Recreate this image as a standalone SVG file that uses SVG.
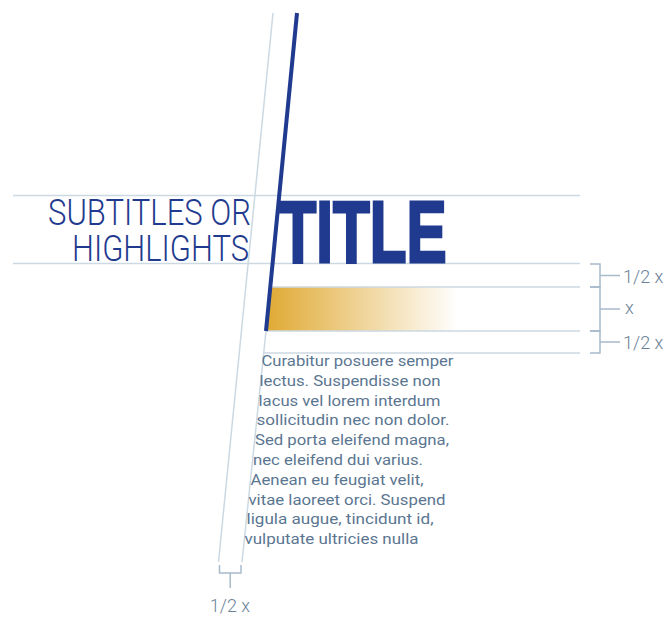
<svg xmlns="http://www.w3.org/2000/svg" width="671" height="618" viewBox="0 0 671 618">
<style>
.guide{stroke:#CCD9E2;stroke-width:1.5;fill:none}
.brk{stroke:#A7BBCA;stroke-width:1.5;fill:none}
.lbl{font-family:Roboto,"Liberation Sans",sans-serif;font-weight:300;font-size:18px;fill:#6A8299}
.body{font-family:Roboto,"Liberation Sans",sans-serif;font-size:15.5px;fill:#5B7691}
.sub{font-family:Roboto,"Liberation Sans",sans-serif;font-weight:300;font-size:36.5px;fill:#1F3A8E}
.title{font-family:"Liberation Sans",Arial,sans-serif;font-weight:bold;font-size:88px;fill:#1F3A8E;stroke:#1F3A8E;stroke-width:3;stroke-linejoin:miter}
</style>
<defs>
<linearGradient id="gold" gradientUnits="userSpaceOnUse" x1="266" y1="0" x2="458" y2="0">
<stop offset="0" stop-color="#E0A933" stop-opacity="1"/>
<stop offset="1" stop-color="#E0A933" stop-opacity="0"/>
</linearGradient>
</defs>
<rect width="671" height="618" fill="#FFFFFF"/>

<g id="bar">
<polygon points="270.2,287 458,287 458,331 265.8,331" fill="url(#gold)"/>
</g>

<g id="connectors">
<line class="guide" x1="13" y1="195.5" x2="580" y2="195.5"/>
<line class="guide" x1="13" y1="263.5" x2="580" y2="263.5"/>
<line class="guide" x1="269" y1="287" x2="580" y2="287"/>
<line class="guide" x1="265" y1="331" x2="580" y2="331"/>
<line class="guide" x1="263" y1="353" x2="580" y2="353"/>
<line class="guide" x1="273" y1="13" x2="218.5" y2="562"/>
<line class="guide" x1="266" y1="331" x2="242" y2="562"/>
<line x1="297" y1="13" x2="266" y2="331" stroke="#1F3A8E" stroke-width="4"/>
<path class="brk" d="M590,264 H600 V287 H590"/>
<path class="brk" d="M590,287 H600 V331 H590"/>
<path class="brk" d="M590,331 H600 V353 H590"/>
<path class="brk" d="M600,275.5 H620 M600,309 H620 M600,342 H620"/>
<path class="brk" d="M219.5,565 V573 H241 V565 M230.2,573 V588"/>
</g>

<g id="subtitle">
<text class="sub" x="251" y="225" text-anchor="end" textLength="203" lengthAdjust="spacingAndGlyphs">SUBTITLES OR</text>
<text class="sub" x="249" y="261" text-anchor="end" textLength="177" lengthAdjust="spacingAndGlyphs">HIGHLIGHTS</text>
</g>

<g id="title">
<text class="title" x="279.5" y="261.5" textLength="167" lengthAdjust="spacingAndGlyphs">TITLE</text>
</g>

<g id="labels">
<text class="lbl" x="623" y="283">1/2 x</text>
<text class="lbl" x="625" y="314">x</text>
<text class="lbl" x="623" y="349">1/2 x</text>
<text class="lbl" x="230" y="612" text-anchor="middle">1/2 x</text>
</g>

<g id="bodytext">
<text class="body" x="261.5" y="366" textLength="192" lengthAdjust="spacingAndGlyphs">Curabitur posuere semper</text>
<text class="body" x="259.5" y="385.8" textLength="181" lengthAdjust="spacingAndGlyphs">lectus. Suspendisse non</text>
<text class="body" x="258.5" y="405.6" textLength="182" lengthAdjust="spacingAndGlyphs">lacus vel lorem interdum</text>
<text class="body" x="256.5" y="425.3" textLength="193" lengthAdjust="spacingAndGlyphs">sollicitudin nec non dolor.</text>
<text class="body" x="255" y="445.1" textLength="194" lengthAdjust="spacingAndGlyphs">Sed porta eleifend magna,</text>
<text class="body" x="253" y="464.9" textLength="170" lengthAdjust="spacingAndGlyphs">nec eleifend dui varius.</text>
<text class="body" x="250.5" y="484.7" textLength="173" lengthAdjust="spacingAndGlyphs">Aenean eu feugiat velit,</text>
<text class="body" x="248.5" y="504.5" textLength="197" lengthAdjust="spacingAndGlyphs">vitae laoreet orci. Suspend</text>
<text class="body" x="246.5" y="524.2" textLength="187" lengthAdjust="spacingAndGlyphs">ligula augue, tincidunt id,</text>
<text class="body" x="244.5" y="544" textLength="174" lengthAdjust="spacingAndGlyphs">vulputate ultricies nulla</text>
</g>
</svg>
